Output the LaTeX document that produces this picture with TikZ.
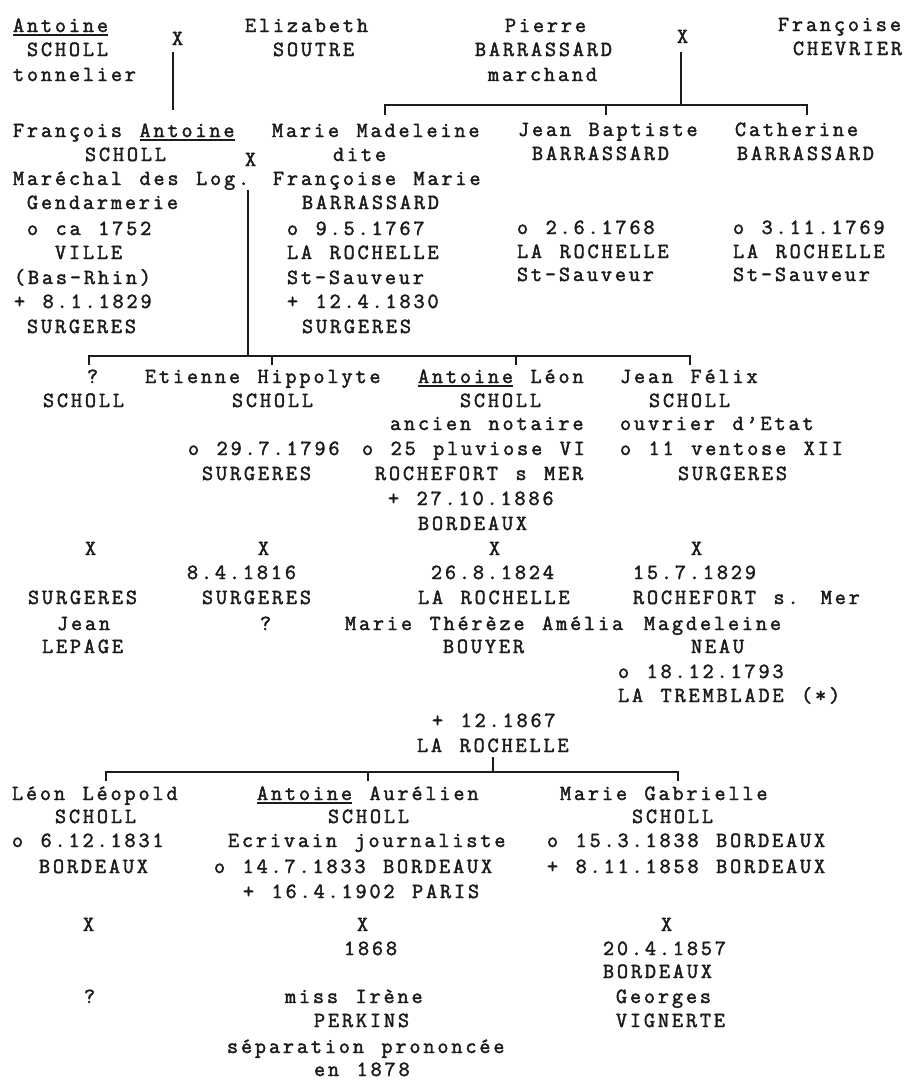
\documentclass[tikz,border=0pt]{standalone}
\usepackage{fontspec}
\setmainfont{Latin Modern Mono}[LetterSpace=13.24,WordSpace=1.252,FakeBold=2]
\definecolor{ink}{HTML}{1C1C1C}
\newcommand\ulin[1]{\setbox0\hbox{#1}\rlap{\rule[-3.5pt]{\wd0}{1.3pt}}\box0\relax}
\begin{document}
\begin{tikzpicture}[x=1pt,y=-1pt,
  t/.style={anchor=base west,inner sep=0pt,outer sep=0pt,text=ink,font=\fontsize{21.6}{24}\selectfont},
  ln/.style={draw=ink,line width=1.8pt}]
\fill[white] (0,0) rectangle (907,1080);
\useasboundingbox (0,0) rectangle (907,1080);
% ---------- generation 1 ----------
\node[t] (a1) at (13,32) {\ulin{Antoine}};
\node[t] (a2) at (27,56) {SCHOLL};
\node[t] (a3) at (13,81) {tonnelier};
\node[t] (x1) at (172,45) {X};
\node[t] (e1) at (245,32) {Elizabeth};
\node[t] (e2) at (273,56) {SOUTRE};
\node[t] (p1) at (505,32) {Pierre};
\node[t] (p2) at (475,56) {BARRASSARD};
\node[t] (p3) at (488,81) {marchand};
\node[t] (x2) at (677,43) {X};
\node[t] (f1) at (778,31) {Françoise};
\node[t] (f2) at (793,55) {CHEVRIER};
% ---------- generation 2 ----------
\node[t] (fa1) at (13,137) {François \ulin{Antoine}};
\node[t] (fa2) at (85,161) {SCHOLL};
\node[t] (fa3) at (13,185) {Maréchal des Log.};
\node[t] (fa4) at (27,209) {Gendarmerie};
\node[t] (fa5) at (27,235) {o ca 1752};
\node[t] (fa6) at (55,259) {VILLE};
\node[t] (fa7) at (14,284) {(Bas-Rhin)};
\node[t] (fa8) at (14,308) {+ 8.1.1829};
\node[t] (fa9) at (27,333) {SURGERES};
\node[t] (x3) at (245,166) {X};
\node[t] (mm1) at (272,137) {Marie Madeleine};
\node[t] (mm2) at (333,161) {dite};
\node[t] (mm3) at (273,185) {Françoise Marie};
\node[t] (mm4) at (302,209) {BARRASSARD};
\node[t] (mm5) at (287,235) {o 9.5.1767};
\node[t] (mm6) at (287,259) {LA ROCHELLE};
\node[t] (mm7) at (287,284) {St-Sauveur};
\node[t] (mm8) at (287,308) {+ 12.4.1830};
\node[t] (mm9) at (302,333) {SURGERES};
\node[t] (jb1) at (518,136) {Jean Baptiste};
\node[t] (jb2) at (532,160) {BARRASSARD};
\node[t] (jb3) at (517,234) {o 2.6.1768};
\node[t] (jb4) at (517,258) {LA ROCHELLE};
\node[t] (jb5) at (517,281) {St-Sauveur};
\node[t] (ca1) at (735,136) {Catherine};
\node[t] (ca2) at (737,160) {BARRASSARD};
\node[t] (ca3) at (733,234) {o 3.11.1769};
\node[t] (ca4) at (733,258) {LA ROCHELLE};
\node[t] (ca5) at (733,281) {St-Sauveur};
% ---------- generation 3 ----------
\node[t] (q1) at (87,383) {?};
\node[t] (q2) at (43,407) {SCHOLL};
\node[t] (eh1) at (145,383) {Etienne Hippolyte};
\node[t] (eh2) at (232,407) {SCHOLL};
\node[t] (eh3) at (188,455) {o 29.7.1796};
\node[t] (eh4) at (202,480) {SURGERES};
\node[t] (al1) at (418,383) {\ulin{Antoine} Léon};
\node[t] (al2) at (460,407) {SCHOLL};
\node[t] (al3) at (390,430) {ancien notaire};
\node[t] (al4) at (362,455) {o 25 pluviose VI};
\node[t] (al5) at (375,480) {ROCHEFORT s MER};
\node[t] (al6) at (388,505) {+ 27.10.1886};
\node[t] (al7) at (418,530) {BORDEAUX};
\node[t] (jf1) at (620,383) {Jean Félix};
\node[t] (jf2) at (649,407) {SCHOLL};
\node[t] (jf3) at (620,430) {ouvrier d'Etat};
\node[t] (jf4) at (620,455) {o 11 ventose XII};
\node[t] (jf5) at (678,480) {SURGERES};
% ---------- marriages of generation 3 ----------
\node[t] (m1x) at (85,555) {X};
\node[t] (m1p) at (28,604) {SURGERES};
\node[t] (m1a) at (57,630) {Jean};
\node[t] (m1b) at (42,653) {LEPAGE};
\node[t] (m2x) at (258,555) {X};
\node[t] (m2d) at (187,579) {8.4.1816};
\node[t] (m2p) at (202,604) {SURGERES};
\node[t] (m2q) at (260,630) {?};
\node[t] (m3x) at (489,555) {X};
\node[t] (m3d) at (431,579) {26.8.1824};
\node[t] (m3p) at (418,604) {LA ROCHELLE};
\node[t] (m3a) at (345,630) {Marie Thérèze Amélia};
\node[t] (m3b) at (443,653) {BOUYER};
\node[t] (m3c) at (432,727) {+ 12.1867};
\node[t] (m3e) at (417,752) {LA ROCHELLE};
\node[t] (m4x) at (691,555) {X};
\node[t] (m4d) at (633,579) {15.7.1829};
\node[t] (m4p) at (633,604) {ROCHEFORT s. Mer};
\node[t] (m4a) at (644,630) {Magdeleine};
\node[t] (m4b) at (691,653) {NEAU};
\node[t] (m4c) at (618,678) {o 18.12.1793};
\node[t] (m4e) at (618,702) {LA TREMBLADE (*)};
% ---------- generation 4 ----------
\node[t] (ll1) at (12,800) {Léon Léopold};
\node[t] (ll2) at (55,823) {SCHOLL};
\node[t] (ll3) at (12,847) {o 6.12.1831};
\node[t] (ll4) at (39,873) {BORDEAUX};
\node[t] (ll5) at (83,931) {X};
\node[t] (ll6) at (84,1003) {?};
\node[t] (aa1) at (257,800) {\ulin{Antoine} Aurélien};
\node[t] (aa2) at (328,823) {SCHOLL};
\node[t] (aa3) at (228,847) {Ecrivain journaliste};
\node[t] (aa4) at (214,873) {o 14.7.1833 BORDEAUX};
\node[t] (aa5) at (243,898) {+ 16.4.1902 PARIS};
\node[t] (aa6) at (357,931) {X};
\node[t] (aa7) at (344,955) {1868};
\node[t] (aa8) at (285,1003) {miss Irène};
\node[t] (aa9) at (314,1027) {PERKINS};
\node[t] (aa10) at (227,1053) {séparation prononcée};
\node[t] (aa11) at (314,1076) {en 1878};
\node[t] (mg1) at (560,800) {Marie Gabrielle};
\node[t] (mg2) at (632,823) {SCHOLL};
\node[t] (mg3) at (547,847) {o 15.3.1838 BORDEAUX};
\node[t] (mg4) at (547,873) {+ 8.11.1858 BORDEAUX};
\node[t] (mg5) at (661,931) {X};
\node[t] (mg6) at (603,955) {20.4.1857};
\node[t] (mg7) at (603,978) {BORDEAUX};
\node[t] (mg8) at (616,1003) {Georges};
\node[t] (mg9) at (616,1027) {VIGNERTE};
% ---------- connectors ----------
\coordinate (v1t) at (173,52);
\coordinate (v1b) at (173,110);
\draw[ln] (v1t) -- (v1b);
\coordinate (v2t) at (681,52);
\coordinate (b1c) at (681,105);
\coordinate (b1l) at (385,105);
\coordinate (b1lt) at (385,115);
\coordinate (b1m) at (606,105);
\coordinate (b1mt) at (606,115);
\coordinate (b1r) at (807,105);
\coordinate (b1rt) at (807,115);
\draw[ln] (v2t) -- (b1c);
\draw[ln] (b1lt) -- (b1l) -- (b1r) -- (b1rt);
\draw[ln] (b1m) -- (b1mt);
\coordinate (v3t) at (248,190);
\coordinate (b2c) at (248,356);
\coordinate (b2l) at (89,356);
\coordinate (b2lt) at (89,365);
\coordinate (b2m1) at (272,356);
\coordinate (b2m1t) at (272,365);
\coordinate (b2m2) at (516,356);
\coordinate (b2m2t) at (516,365);
\coordinate (b2r) at (690,356);
\coordinate (b2rt) at (690,365);
\draw[ln] (v3t) -- (b2c);
\draw[ln] (b2lt) -- (b2l) -- (b2r) -- (b2rt);
\draw[ln] (b2m1) -- (b2m1t);
\draw[ln] (b2m2) -- (b2m2t);
\coordinate (v4t) at (493,757);
\coordinate (b3c) at (493,772);
\coordinate (b3l) at (106,772);
\coordinate (b3lt) at (106,781);
\coordinate (b3m) at (368,772);
\coordinate (b3mt) at (368,781);
\coordinate (b3r) at (678,772);
\coordinate (b3rt) at (678,781);
\draw[ln] (v4t) -- (b3c);
\draw[ln] (b3lt) -- (b3l) -- (b3r) -- (b3rt);
\draw[ln] (b3m) -- (b3mt);
\end{tikzpicture}
\end{document}
